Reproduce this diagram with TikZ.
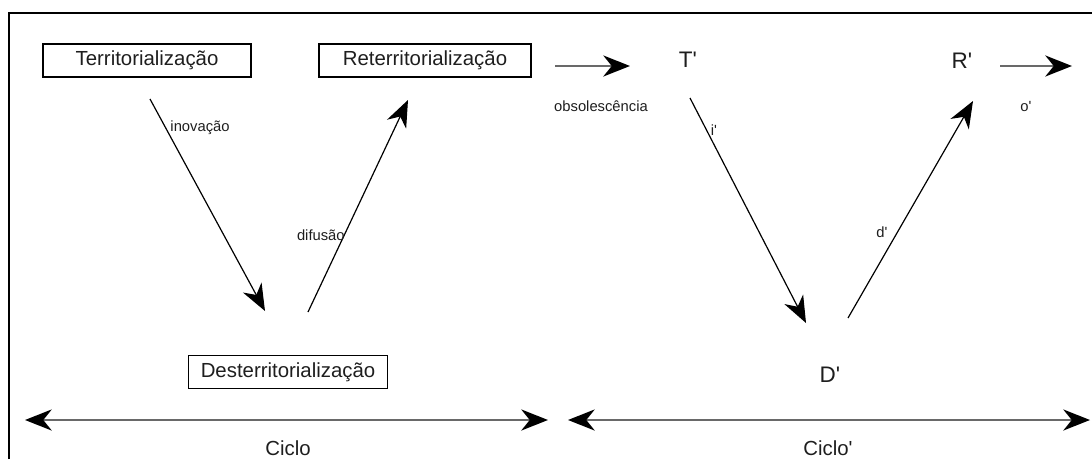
\documentclass[tikz,border=0pt]{standalone}
\usepackage{fontspec}
\setmainfont{Liberation Sans}
\usetikzlibrary{positioning,arrows.meta,calc}
\definecolor{InkGray}{RGB}{30,30,30}
\definecolor{LineGray}{RGB}{105,105,105}
\newcommand{\pr}{\textquotesingle}

\begin{document}
\begin{tikzpicture}[font=\fontsize{14.5}{17}\selectfont, every node/.style={align=center, text=InkGray},
    termbox/.style={draw, line width=0.9pt, inner sep=0pt, minimum height=0.825cm},
    primelbl/.style={font=\fontsize{16}{19}\selectfont},
    edgelbl/.style={font=\fontsize{10.5}{12}\selectfont},
    tip/.tip={Stealth[length=19pt, width=15pt, inset=6pt, black]},
    arr/.style={-tip, line width=0.85pt},
    flatarr/.style={-tip, LineGray, line width=1.3pt}]
  \useasboundingbox (0,0) rectangle (27.3,11.475);
  \draw[line width=1.6pt] (0.225,0) -- (0.225,11.15) -- (27.3,11.15);
  % first cycle
  \node[termbox, minimum width=5.2cm] (terr) at (3.675,9.9625) {Territorialização};
  \node[termbox, minimum width=5.3cm] (reterr) at (10.625,9.9625) {Reterritorialização};
  \node[termbox, minimum width=4.975cm] (desterr) at (7.2,2.175) {Desterritorialização};
  % second cycle
  \node[primelbl] (tp) at (17.2,9.975) {T\pr};
  \node[primelbl] (rp) at (24.05,9.95) {R\pr};
  \node[primelbl] (dp) at (20.75,2.1) {D\pr};
  % arrow ends
  \coordinate (inoA) at (3.75,9.0);     \coordinate (inoB) at (6.625,3.7);
  \coordinate (difA) at (7.7,3.675);    \coordinate (difB) at (10.2,8.975);
  \coordinate (iA) at (17.25,9.025);    \coordinate (iB) at (20.15,3.4);
  \coordinate (dA) at (21.2,3.525);     \coordinate (dB) at (24.325,8.95);
  \coordinate (obsA) at (13.875,9.825); \coordinate (obsB) at (15.75,9.825);
  \coordinate (oA) at (25.0,9.825);     \coordinate (oB) at (26.8,9.825);
  \coordinate (cicA) at (0.625,0.975);  \coordinate (cicB) at (13.7,0.975);
  \coordinate (cpA) at (14.2,0.975);    \coordinate (cpB) at (27.25,0.975);
  \foreach \a/\b in {inoA/inoB, difA/difB, iA/iB, dA/dB}
    \draw[arr] (\a) -- (\b);
  \foreach \a/\b in {obsA/obsB, oA/oB}
    \draw[flatarr] (\a) -- (\b);
  \foreach \a/\b in {cicA/cicB, cpA/cpB}
    \draw[flatarr, tip-tip] (\a) -- (\b);
  % labels
  \node[edgelbl, anchor=west, inner sep=1pt] (ino) at (4.22,8.275) {inovação};
  \node[edgelbl, anchor=east, inner sep=0.5pt] (dif) at (8.64,5.6) {difusão};
  \node[edgelbl] (obs) at (15.025,8.825) {obsolescência};
  \node[edgelbl] (ip) at (17.85,8.225) {i\pr};
  \node[edgelbl] (dl) at (22.05,5.675) {d\pr};
  \node[edgelbl] (op) at (25.65,8.825) {o\pr};
  \node[anchor=base, inner sep=1pt] (cic) at (7.2,0.1) {Ciclo};
  \node[anchor=base, inner sep=1pt] (cicp) at (20.7,0.1) {Ciclo\pr};
\end{tikzpicture}
\end{document}
